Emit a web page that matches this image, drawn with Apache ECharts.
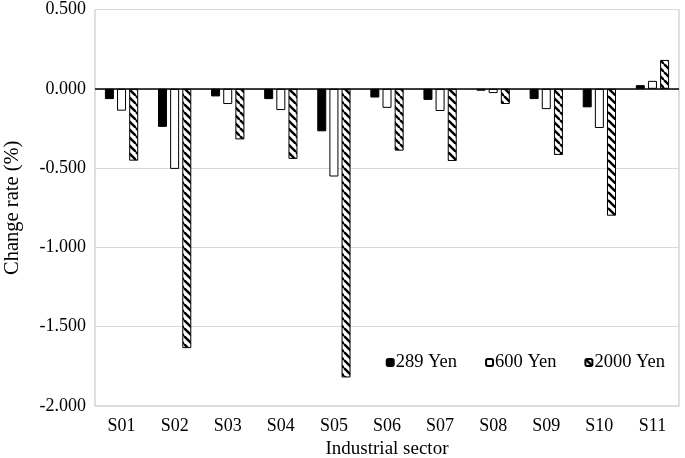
<!DOCTYPE html>
<html>
<head>
<meta charset="utf-8">
<script src="https://cdn.jsdelivr.net/npm/echarts@6/dist/echarts.min.js"></script>
<style>
  html, body { margin: 0; padding: 0; background: #fff; }
  #main { width: 685px; height: 458px; }
</style>
</head>
<body>
<div id="main"></div>
<script>
const sectors = ["S01", "S02", "S03", "S04", "S05", "S06", "S07", "S08", "S09", "S10", "S11"];
const yen289 = [-0.065, -0.240, -0.048, -0.065, -0.268, -0.055, -0.070, -0.012, -0.065, -0.117, 0.023];
const yen600 = [-0.138, -0.505, -0.096, -0.134, -0.553, -0.120, -0.140, -0.027, -0.128, -0.247, 0.050];
const yen2000 = [-0.453, -1.635, -0.319, -0.442, -1.820, -0.390, -0.455, -0.096, -0.417, -0.800, 0.182];
const seriesNames = ["289 Yen", "600 Yen", "2000 Yen"];

// diagonal hatch for the 2000 Yen bars
function makeHatch() {
  const c = document.createElement("canvas");
  c.width = 8;
  c.height = 8;
  const ctx = c.getContext("2d");
  ctx.fillStyle = "#fff";
  ctx.fillRect(0, 0, 8, 8);
  ctx.strokeStyle = "#000";
  ctx.lineWidth = 2.4;
  for (const o of [-8, 0, 8]) {
    ctx.beginPath();
    ctx.moveTo(o, 0);
    ctx.lineTo(o + 8, 8);
    ctx.stroke();
  }
  return c;
}

const font = "Liberation Serif";
const chart = echarts.init(document.getElementById("main"));

chart.setOption({
  animation: false,
  textStyle: { fontFamily: font, color: "#000" },
  grid: {
    left: 95,
    right: 6,
    top: 9.5,
    bottom: 52,
    outerBoundsMode: "none",
    containLabel: false,
    show: true,
    borderColor: "#bfbfbf",
    borderWidth: 1,
  },
  legend: {
    data: seriesNames,
    right: 15,
    top: 348,
    itemWidth: 7,
    itemHeight: 7,
    itemGap: 28,
    textStyle: { fontFamily: font, fontSize: 18.5, color: "#000", padding: [0, 0, 0, -3] },
  },
  xAxis: {
    type: "category",
    data: sectors,
    name: "Industrial sector",
    nameLocation: "middle",
    nameGap: 23,
    nameTextStyle: { fontFamily: font, fontSize: 19, color: "#000" },
    axisLine: { show: false },
    axisTick: { show: false },
    axisLabel: { fontFamily: font, fontSize: 18, color: "#000", margin: 11 },
  },
  yAxis: {
    type: "value",
    min: -2,
    max: 0.5,
    interval: 0.5,
    name: "Change rate (%)",
    nameLocation: "middle",
    nameGap: 72,
    nameTextStyle: { fontFamily: font, fontSize: 20.5, color: "#000" },
    axisLine: { show: false },
    axisTick: { show: false },
    axisLabel: {
      fontFamily: font,
      fontSize: 18,
      color: "#000",
      margin: 9,
      formatter: (v) => v.toFixed(3),
    },
    splitLine: { lineStyle: { color: "#d9d9d9", width: 1 } },
  },
  series: [
    {
      name: seriesNames[0],
      type: "bar",
      data: yen289,
      barWidth: 9,
      barGap: "35%",
      itemStyle: { color: "#000", borderColor: "#000", borderWidth: 1 },
      markLine: {
        silent: true,
        symbol: "none",
        label: { show: false },
        lineStyle: { color: "#000", type: "solid", width: 1.5 },
        data: [{ yAxis: 0 }],
      },
    },
    {
      name: seriesNames[1],
      type: "bar",
      data: yen600,
      barWidth: 9,
      barGap: "35%",
      itemStyle: { color: "#fff", borderColor: "#000", borderWidth: 1 },
    },
    {
      name: seriesNames[2],
      type: "bar",
      data: yen2000,
      barWidth: 9,
      barGap: "35%",
      itemStyle: {
        color: { image: makeHatch(), repeat: "repeat" },
        borderColor: "#000",
        borderWidth: 1,
      },
    },
  ],
});
</script>
</body>
</html>
